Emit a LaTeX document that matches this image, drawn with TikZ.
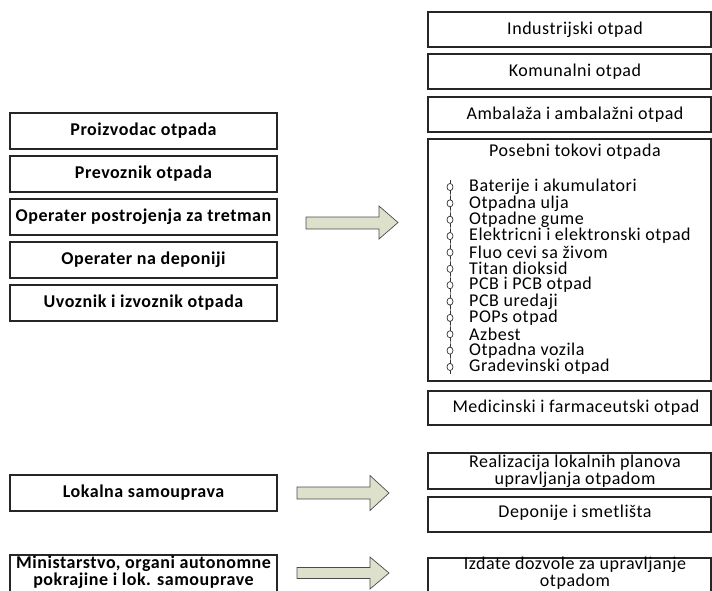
\documentclass[tikz,border=0pt]{standalone}
\usepackage{fontspec}
\setmainfont{Carlito}
\newfontfamily\boxfont[LetterSpace=3]{Carlito}
\definecolor{arrowfill}{RGB}{221,224,203}
\begin{document}
\begin{tikzpicture}[x=1pt,y=-1pt,
  box/.style={draw=black!85, line width=1.1pt, rectangle, inner sep=0pt},
  lbox/.style={box, minimum width=267pt, minimum height=36pt},
  rbox/.style={box, minimum width=283pt, minimum height=35pt},
  ltext/.style={font=\boxfont\fontsize{18}{12}\selectfont\bfseries, align=center, inner sep=0pt},
  rtext/.style={font=\boxfont\fontsize{18}{12}\selectfont, align=center, inner sep=0pt},
  item/.style={font=\boxfont\fontsize{18}{12}\selectfont, anchor=west, inner sep=0pt},
  blockarrow/.style={draw=black!70, line width=0.7pt, fill=arrowfill, line join=miter},
  bul/.style={draw=black!80, line width=0.7pt}
]
\useasboundingbox (0,0) rectangle (712,590);
\clip (0,0) rectangle (712,590);

% left group
\node[lbox] (p1) at (143.5,131) {}; \node[ltext] (p1t) at (p1) {Proizvodac otpada};
\node[lbox] (p2) at (143.5,174) {}; \node[ltext] (p2t) at (p2) {Prevoznik otpada};
\node[lbox] (p3) at (143.5,217) {}; \node[ltext] (p3t) at (p3) {Operater postrojenja za tretman};
\node[lbox] (p4) at (143.5,260) {}; \node[ltext] (p4t) at (p4) {Operater na deponiji};
\node[lbox] (p5) at (143.5,303) {}; \node[ltext] (p5t) at (p5) {Uvoznik i izvoznik otpada};

% right group
\node[rbox] (r1) at (569.5,29.5) {}; \node[rtext] (r1t) at (575,29.5) {Industrijski otpad};
\node[rbox] (r2) at (569.5,71.5) {}; \node[rtext] (r2t) at (575,71.5) {Komunalni otpad};
\node[rbox] (r3) at (569.5,114.5) {}; \node[rtext] (r3t) at (575,114.5) {Ambalaža i ambalažni otpad};
\node[box, minimum width=283pt, minimum height=242pt] (r4) at (569.5,260) {};
\node[rtext] (r4t) at (575,152) {Posebni tokovi otpada};
\draw[black!45, line width=0.6pt] (450,187) -- (450,367);
\foreach \t [count=\i from 0] in {Baterije i akumulatori, Otpadna ulja, Otpadne gume, Elektricni i elektronski otpad, Fluo cevi sa živom, Titan dioksid, PCB i PCB otpad, PCB uredaji, POPs otpad, Azbest, Otpadna vozila, Gradevinski otpad}{
  \pgfmathsetmacro{\yy}{187+16.36*\i}
  \draw[bul] (450,\yy-7) -- (450,\yy+7);
  \draw[bul, fill=white] (450,\yy) ellipse (3pt and 3.6pt);
  \node[item] (li\i) at (469,\yy) {\t};
}
\node[rbox, minimum height=34pt] (r5) at (569.5,408) {}; \node[rtext] (r5t) at (576,408) {Medicinski i farmaceutski otpad};

% bottom
\node[lbox] (l1) at (143.5,493) {}; \node[ltext] (l1t) at (l1) {Lokalna samouprava};
\node[lbox, minimum height=42pt] (l2) at (143.5,576) {}; \node[ltext] (l2t) at (143.5,572.5) {Ministarstvo, organi autonomne\\pokrajine i lok. samouprave};

\node[rbox, minimum height=36pt] (b1) at (569.5,471) {}; \node[rtext] (b1t) at (575,471) {Realizacija lokalnih planova\\upravljanja otpadom};
\node[rbox] (b2) at (569.5,514.5) {}; \node[rtext] (b2t) at (575,513) {Deponije i smetlišta};
\node[rbox, minimum height=42pt] (b3) at (569.5,579) {}; \node[rtext] (b3t) at (575,573) {Izdate dozvole za upravljanje\\otpadom};

% block arrows
\draw[blockarrow] (306,217) -- (379,217) -- (379,206) -- (398,222.5) -- (379,239) -- (379,229) -- (306,229) -- cycle;
\draw[blockarrow] (297,487) -- (370,487) -- (370,475.5) -- (389,493) -- (370,510.5) -- (370,499) -- (297,499) -- cycle;
\draw[blockarrow] (297,567.5) -- (370,567.5) -- (370,557) -- (389,573) -- (370,589) -- (370,578.5) -- (297,578.5) -- cycle;
\end{tikzpicture}
\end{document}
